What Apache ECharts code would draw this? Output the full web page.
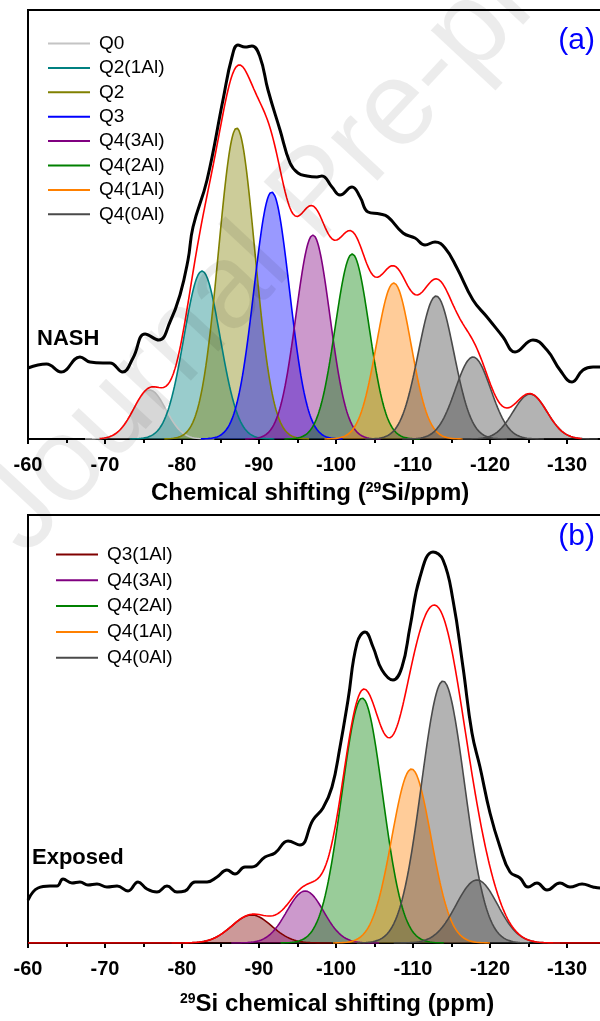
<!DOCTYPE html>
<html>
<head>
<meta charset="utf-8">
<script src="https://cdn.jsdelivr.net/npm/echarts@6/dist/echarts.min.js"></script>
<style>
  html, body { margin: 0; padding: 0; background: #fff; }
  #chart { width: 600px; height: 1021px; }
</style>
</head>
<body>
<div id="chart"></div>
<script>
// ---------- (a) NASH: measured 29Si MAS NMR spectrum ----------
const nashPpm = [-60, -62.4, -64.3, -66.75, -68.05, -69.74, -70.65, -72.3, -73.64, -75.2, -77.0, -78.44,
  -79.74, -80.78, -81.43, -83.25, -85.32, -86.49, -87.27, -88.18, -89.09, -90.13, -91.17, -92.73,
  -94.03, -95.06, -96.23, -97.53, -98.18, -99.48, -100.52, -102.08, -103.12, -104.16, -105.71,
  -106.75, -108.7, -110.26, -111.56, -112.86, -114.16, -115.71, -117.79, -119.61, -121.69,
  -123.25, -125.58, -127.4, -129.09, -130.65, -132.08, -133.38, -134.3, -140];
const nashInt = [71, 75, 67, 82, 77, 76, 76, 67, 81, 105, 99, 117,
  144, 179, 212, 259, 339, 382, 394, 392, 393, 382, 349, 309,
  276, 266, 263, 262, 263, 252, 244, 252, 242, 227, 225,
  222, 206, 201, 194, 197, 191, 171, 139, 122, 102,
  87, 99, 89, 69, 57, 69, 72, 72, 72];

// (a) fitted Gaussian components: name, centre (ppm), height (a.u.), sigma (ppm)
const nashNames  = ['Q0', 'Q2(1Al)', 'Q2', 'Q3', 'Q4(3Al)', 'Q4(2Al)', 'Q4(1Al)', 'Q4(0Al)', 'Q4(0Al)', 'Q4(0Al)'];
const nashCenter = [-75.8, -82.6, -87.1, -91.65, -97.0, -102.1, -107.5, -113.0, -117.8, -125.2];
const nashHeight = [49, 168, 311, 247, 204, 185, 156, 143, 82, 45];
const nashSigma  = [2.1, 2.35, 2.35, 2.3, 2.2, 2.2, 2.25, 2.3, 2.3, 2.2];
const nashLegend = ['Q0', 'Q2(1Al)', 'Q2', 'Q3', 'Q4(3Al)', 'Q4(2Al)', 'Q4(1Al)', 'Q4(0Al)'];

// ---------- (b) Exposed: measured spectrum ----------
const expPpm = [-60, -61.3, -62.86, -63.77, -64.55, -65.71, -66.75, -67.79, -68.96, -70.26, -71.56,
  -72.99, -74.29, -75.45, -76.75, -78.05, -79.35, -80.39, -81.69, -83.25, -84.55, -85.84, -86.88,
  -88.18, -89.09, -90.78, -92.08, -93.77, -95.32, -97.01, -98.31, -99.48, -100.52, -101.56,
  -102.73, -103.77, -104.81, -105.97, -107.4, -108.57, -109.61, -110.91, -112.6, -113.9,
  -115.19, -116.49, -117.66, -118.7, -120.0, -121.3, -122.6, -123.9, -124.94, -126.1, -127.4,
  -129.09, -130.39, -131.95, -133.38, -134.3, -140];
const expInt = [43, 55, 57, 57, 64, 60, 61, 58, 59, 56, 57,
  52, 61, 54, 51, 57, 51, 52, 61, 61, 66, 73, 69,
  76, 76, 86, 90, 102, 98, 123, 135, 156, 196, 243,
  300, 311, 296, 273, 263, 276, 316, 366, 391, 383,
  343, 276, 210, 176, 130, 96, 71, 65, 56, 60, 53,
  60, 56, 59, 56, 55, 55];

const expNames  = ['Q3(1Al)', 'Q4(3Al)', 'Q4(2Al)', 'Q4(1Al)', 'Q4(0Al)', 'Q4(0Al)'];
const expCenter = [-89.05, -96.0, -103.4, -109.8, -113.9, -118.3];
const expHeight = [28, 52, 245, 174, 262, 63];
const expSigma  = [2.6, 2.4, 2.65, 2.55, 2.8, 2.7];
const expLegend = ['Q3(1Al)', 'Q4(3Al)', 'Q4(2Al)', 'Q4(1Al)', 'Q4(0Al)'];

const xTickStep = 10;

// ---------- styling ----------
const lineColor = {
  'Q0': '#c4c4c4', 'Q2(1Al)': '#008080', 'Q2': '#808000', 'Q3': '#0000ff',
  'Q4(3Al)': '#800080', 'Q4(2Al)': '#008000', 'Q4(1Al)': '#ff8000',
  'Q4(0Al)': '#4a4a4a', 'Q3(1Al)': '#800000'
};
const fillColor = Object.assign({}, lineColor, { 'Q0': '#9c9c9c', 'Q4(0Al)': '#404040' });
const FONT = '"Liberation Sans", Arial, Helvetica, sans-serif';

function gauss(c, h, s, x) { return h * Math.exp(-((x - c) * (x - c)) / (2 * s * s)); }

// sample a component over +-4 sigma around its centre
function component(c, h, s) {
  const pts = [];
  for (let x = c + 4 * s; x >= c - 4 * s - 1e-9; x -= 0.1) pts.push([x, gauss(c, h, s, x)]);
  return pts;
}
// fitted envelope = sum of components
function envelope(cs, hs, ss, from, to, dropZero) {
  const pts = [];
  for (let x = from; x >= to - 1e-9; x -= 0.1) {
    let v = 0;
    for (let i = 0; i < cs.length; i++) v += gauss(cs[i], hs[i], ss[i], x);
    pts.push([x, (dropZero && v < 0.4) ? null : v]);
  }
  return pts;
}
function zip(a, b) { return a.map((v, i) => [v, b[i]]); }

function panelSeries(gi, names, cs, hs, ss, expX, expY, dropZero) {
  const out = [];
  names.forEach((n, i) => {
    out.push({
      name: n, type: 'line', xAxisIndex: gi, yAxisIndex: gi,
      data: component(cs[i], hs[i], ss[i]),
      showSymbol: false, symbol: 'none', silent: true, z: 2,
      lineStyle: { color: lineColor[n], width: 1.6 },
      itemStyle: { color: lineColor[n] },
      areaStyle: { color: fillColor[n], opacity: 0.4, origin: 'start' }
    });
  });
  out.push({
    name: 'fit', type: 'line', xAxisIndex: gi, yAxisIndex: gi,
    data: envelope(cs, hs, ss, -60, -140, dropZero),
    showSymbol: false, symbol: 'none', silent: true, z: 3, connectNulls: false,
    lineStyle: { color: '#ff0000', width: 1.6 }
  });
  out.push({
    name: 'spectrum', type: 'line', xAxisIndex: gi, yAxisIndex: gi,
    data: zip(expX, expY), smooth: 0.45,
    showSymbol: false, symbol: 'none', silent: true, z: 4,
    lineStyle: { color: '#000', width: 3 }
  });
  return out;
}

function xAxisFor(gi) {
  return {
    gridIndex: gi, type: 'value', min: -140, max: -60, interval: xTickStep, inverse: true,
    axisLine: { show: true, onZero: false, lineStyle: { color: '#000', width: 2 } },
    axisTick: { show: true, inside: false, length: 5, lineStyle: { color: '#000', width: 2 } },
    minorTick: { show: true, splitNumber: 2, length: 4, lineStyle: { color: '#000', width: 2 } },
    splitLine: { show: false },
    axisLabel: { color: '#000', fontSize: 20, fontWeight: 'bold', fontFamily: FONT, margin: 16 }
  };
}
function yAxisFor(gi, max) {
  return { gridIndex: gi, type: 'value', min: 0, max: max, show: false };
}
function legendFor(names, left, top, gap) {
  return {
    orient: 'vertical', left: left, top: top, itemWidth: 42, itemHeight: 2, itemGap: gap,
    icon: 'rect', selectedMode: false, padding: 0,
    data: names.map(n => ({ name: n, itemStyle: { color: lineColor[n] } })),
    textStyle: { color: '#000', fontSize: 19, fontFamily: FONT, lineHeight: 18, padding: [0, 0, 0, 4] }
  };
}

const chart = echarts.init(document.getElementById('chart'), null, { renderer: 'canvas' });
chart.setOption({
  backgroundColor: '#fff',
  animation: false,
  grid: [
    { left: 28, top: 10, width: 616, height: 429, outerBoundsMode: 'none', containLabel: false,
      show: true, borderColor: '#000', borderWidth: 2, backgroundColor: 'transparent' },
    { left: 28, top: 515, width: 616, height: 428, outerBoundsMode: 'none', containLabel: false,
      show: true, borderColor: '#000', borderWidth: 2, backgroundColor: 'transparent' }
  ],
  xAxis: [xAxisFor(0), xAxisFor(1)],
  yAxis: [yAxisFor(0, 429), yAxisFor(1, 428)],
  legend: [legendFor(nashLegend, 48, 34, 5.4), legendFor(expLegend, 56, 545, 6.8)],
  series: [].concat(
    panelSeries(0, nashNames, nashCenter, nashHeight, nashSigma, nashPpm, nashInt, true),
    panelSeries(1, expNames, expCenter, expHeight, expSigma, expPpm, expInt, false)
  ),
  graphic: [
    { type: 'text', left: 37, top: 328, z: 10, style: { text: 'NASH', font: 'bold 22px ' + FONT, fill: '#000' } },
    { type: 'text', left: 32, top: 847, z: 10, style: { text: 'Exposed', font: 'bold 22px ' + FONT, fill: '#000' } },
    { type: 'text', right: 5, top: 26, z: 10, style: { text: '(a)', font: '30px ' + FONT, fill: '#0000ff' } },
    { type: 'text', right: 5, top: 522, z: 10, style: { text: '(b)', font: '30px ' + FONT, fill: '#0000ff' } },
    { type: 'text', left: 151, top: 481, z: 10, style: {
        text: '{t|Chemical shifting (}{s|29}{t|Si/ppm)}',
        rich: { t: { font: 'bold 24px ' + FONT, fill: '#000', verticalAlign: 'bottom' },
                s: { font: 'bold 14px ' + FONT, fill: '#000', verticalAlign: 'top', padding: [0, 0, 8, 0] } } } },
    { type: 'text', left: 180, top: 992, z: 10, style: {
        text: '{s|29}{t|Si chemical shifting (ppm)}',
        rich: { t: { font: 'bold 24px ' + FONT, fill: '#000', verticalAlign: 'bottom' },
                s: { font: 'bold 14px ' + FONT, fill: '#000', verticalAlign: 'top', padding: [0, 0, 8, 0] } } } },
    { type: 'text', x: 318, y: 196, rotation: 0.82, z: 20, silent: true, style: {
        text: 'Journal Pre-proof', font: '120px ' + FONT, fill: 'rgba(0,0,0,0.075)',
        align: 'center', verticalAlign: 'middle' } }
  ]
});
</script>
</body>
</html>
